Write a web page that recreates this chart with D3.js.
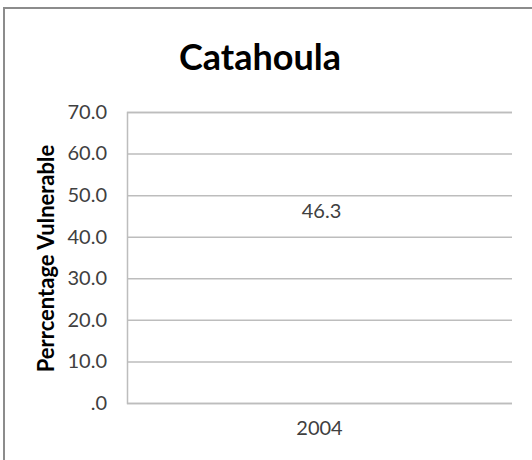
<!DOCTYPE html>
<html>
<head>
<meta charset="utf-8">
<script src="https://cdn.jsdelivr.net/npm/d3@7"></script>
<style>
  body { margin: 0; background: #fff; }
  svg { display: block; font-family: Lato, "Open Sans", sans-serif; }
  svg text { font-family: Lato, "Open Sans", sans-serif; }
</style>
</head>
<body>
<div id="chart"></div>
<script>
// 数据
const title = "Catahoula";
const categories = ["2004"];
const values = [46.3];
const yTicks = [0, 10, 20, 30, 40, 50, 60, 70];
const yLabel = "Perrcentage Vulnerable";

const width = 532, height = 460;
const margin = { top: 112, right: 20, bottom: 57, left: 127 };

const svg = d3.select("#chart").append("svg")
  .attr("width", width)
  .attr("height", height);

// 外框
svg.append("rect")
  .attr("x", 4).attr("y", 8)
  .attr("width", width + 10).attr("height", height + 10)
  .attr("fill", "none")
  .attr("stroke", "#8c8c8c")
  .attr("stroke-width", 2);

const x = d3.scaleBand()
  .domain(categories)
  .range([margin.left, width - margin.right]);

const y = d3.scaleLinear()
  .domain([0, 70])
  .range([height - margin.bottom, margin.top]);

// 网格线 + y轴
svg.append("g")
  .attr("transform", `translate(${margin.left},0)`)
  .call(d3.axisLeft(y)
    .tickValues(yTicks)
    .tickSize(-(width - margin.right - margin.left))
    .tickPadding(20)
    .tickFormat(d => d === 0 ? ".0" : d3.format(".1f")(d)))
  .call(g => g.select(".domain").attr("stroke", "#bdbdbd").attr("stroke-width", 1.5))
  .call(g => g.selectAll(".tick line").attr("stroke", "#bdbdbd").attr("stroke-width", 1.5))
  .call(g => g.selectAll(".tick text")
    .attr("fill", "#404040")
    .style("font-size", "20px"));

// x轴
svg.append("g")
  .attr("transform", `translate(0,${height - margin.bottom})`)
  .call(d3.axisBottom(x).tickSize(0).tickPadding(18))
  .call(g => g.select(".domain").remove())
  .call(g => g.selectAll(".tick text")
    .attr("fill", "#404040")
    .style("font-size", "20px"));

// 数据标签
svg.selectAll(".value-label")
  .data(values)
  .join("text")
  .attr("class", "value-label")
  .attr("x", (d, i) => x(categories[i]) + x.bandwidth() / 2 + 2)
  .attr("y", d => y(d))
  .attr("dy", "0.35em")
  .attr("text-anchor", "middle")
  .attr("fill", "#404040")
  .style("font-size", "20px")
  .text(d => d3.format(".1f")(d));

// 标题
svg.append("text")
  .attr("x", 260)
  .attr("y", 70)
  .attr("text-anchor", "middle")
  .attr("fill", "#000")
  .style("font-size", "36px")
  .style("font-weight", "bold")
  .text(title);

// y轴标题
svg.append("text")
  .attr("transform", `translate(54,${(margin.top + height - margin.bottom) / 2 + 1}) rotate(-90)`)
  .attr("text-anchor", "middle")
  .attr("fill", "#000")
  .style("font-size", "22px")
  .style("font-weight", "bold")
  .text(yLabel);
</script>
</body>
</html>
